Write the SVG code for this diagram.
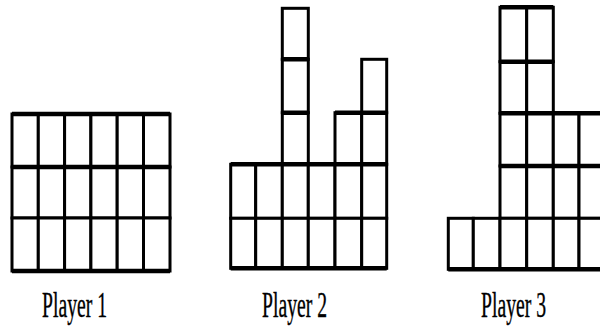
<svg xmlns="http://www.w3.org/2000/svg" width="600" height="328" viewBox="0 0 600 328">
<style>
.c{fill:#fff;stroke:#000;stroke-width:3}
.h{fill:none;stroke:#000;stroke-width:4.5}
.t{font-family:"Liberation Serif","Times New Roman",serif;font-size:36px;fill:#000;stroke:#000;stroke-width:0.4}
</style>
<rect width="600" height="328" fill="#fff"/>
<g id="player1">
<rect class="c" x="12" y="114" width="26.3" height="53"/><rect class="c" x="38.3" y="114" width="26.3" height="53"/><rect class="c" x="64.6" y="114" width="26.3" height="53"/><rect class="c" x="90.9" y="114" width="26.3" height="53"/><rect class="c" x="117.2" y="114" width="26.3" height="53"/><rect class="c" x="143.5" y="114" width="26.5" height="53"/>
<rect class="c" x="12" y="167" width="26.3" height="51"/><rect class="c" x="38.3" y="167" width="26.3" height="51"/><rect class="c" x="64.6" y="167" width="26.3" height="51"/><rect class="c" x="90.9" y="167" width="26.3" height="51"/><rect class="c" x="117.2" y="167" width="26.3" height="51"/><rect class="c" x="143.5" y="167" width="26.5" height="51"/>
<rect class="c" x="12" y="218" width="26.3" height="53"/><rect class="c" x="38.3" y="218" width="26.3" height="53"/><rect class="c" x="64.6" y="218" width="26.3" height="53"/><rect class="c" x="90.9" y="218" width="26.3" height="53"/><rect class="c" x="117.2" y="218" width="26.3" height="53"/><rect class="c" x="143.5" y="218" width="26.5" height="53"/>
<path class="h" d="M12 114H170M12 167H170M12 271H170"/>
<text class="t" x="42" y="317" textLength="65" lengthAdjust="spacingAndGlyphs">Player 1</text>
</g>
<g id="player2">
<rect class="c" x="282.3" y="8.3" width="26" height="51"/>
<rect class="c" x="282.3" y="59.3" width="26" height="53.4"/>
<rect class="c" x="282.3" y="112.7" width="26" height="51.6"/>
<rect class="c" x="361.7" y="59.3" width="25" height="53.4"/>
<rect class="c" x="335" y="112.7" width="26.7" height="51.6"/>
<rect class="c" x="361.7" y="112.7" width="25" height="51.6"/>
<rect class="c" x="230.7" y="164.3" width="25" height="54"/><rect class="c" x="255.7" y="164.3" width="26.6" height="54"/><rect class="c" x="282.3" y="164.3" width="26" height="54"/><rect class="c" x="308.3" y="164.3" width="26.7" height="54"/><rect class="c" x="335" y="164.3" width="26.7" height="54"/><rect class="c" x="361.7" y="164.3" width="25" height="54"/>
<rect class="c" x="230.7" y="218.3" width="25" height="50"/><rect class="c" x="255.7" y="218.3" width="26.6" height="50"/><rect class="c" x="282.3" y="218.3" width="26" height="50"/><rect class="c" x="308.3" y="218.3" width="26.7" height="50"/><rect class="c" x="335" y="218.3" width="26.7" height="50"/><rect class="c" x="361.7" y="218.3" width="25" height="50"/>
<path class="h" d="M282.3 59.3H308.3M282.3 112.7H308.3M335 112.7H386.7M230.7 164.3H386.7M230.7 268.3H386.7"/>
<text class="t" x="262" y="317" textLength="65" lengthAdjust="spacingAndGlyphs">Player 2</text>
</g>
<g id="player3">
<rect class="c" x="500" y="7.3" width="26.7" height="54.4"/><rect class="c" x="526.7" y="7.3" width="26.6" height="54.4"/>
<rect class="c" x="500" y="61.7" width="26.7" height="51.6"/><rect class="c" x="526.7" y="61.7" width="26.6" height="51.6"/>
<rect class="c" x="500" y="113.3" width="26.7" height="52.7"/><rect class="c" x="526.7" y="113.3" width="26.6" height="52.7"/><rect class="c" x="553.3" y="113.3" width="25.7" height="52.7"/><rect class="c" x="579" y="113.3" width="26" height="52.7"/>
<rect class="c" x="500" y="166" width="26.7" height="52.3"/><rect class="c" x="526.7" y="166" width="26.6" height="52.3"/><rect class="c" x="553.3" y="166" width="25.7" height="52.3"/><rect class="c" x="579" y="166" width="26" height="52.3"/>
<rect class="c" x="448.3" y="218.3" width="25" height="51"/><rect class="c" x="473.3" y="218.3" width="26.7" height="51"/><rect class="c" x="500" y="218.3" width="26.7" height="51"/><rect class="c" x="526.7" y="218.3" width="26.6" height="51"/><rect class="c" x="553.3" y="218.3" width="25.7" height="51"/><rect class="c" x="579" y="218.3" width="26" height="51"/>
<path class="h" d="M500 7.3H553.3M500 61.7H553.3M500 113.3H605M500 166H605M448.3 269.3H605"/>
<text class="t" x="481" y="317" textLength="65" lengthAdjust="spacingAndGlyphs">Player 3</text>
</g>
</svg>
